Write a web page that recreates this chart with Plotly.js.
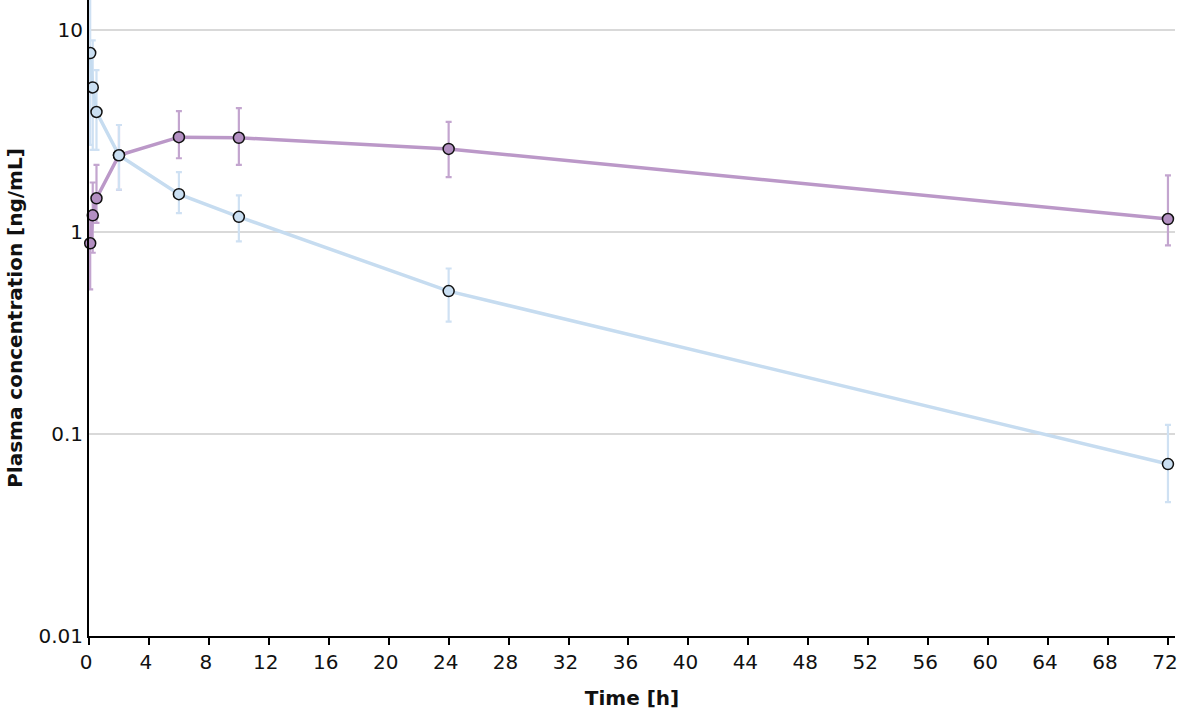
<!DOCTYPE html>
<html>
<head>
<meta charset="utf-8">
<script src="https://cdn.plot.ly/plotly-3.0.1.min.js"></script>
<style>html,body{margin:0;padding:0;background:#fff;}#chart{width:1178px;height:710px;}</style>
</head>
<body>
<div id="chart"></div>
<script>
const timeH = [0.08, 0.25, 0.5, 2, 6, 10, 24, 72];

const blueConc = [7.7, 5.2, 3.93, 2.40, 1.54, 1.19, 0.51, 0.071];
const blueErrPlus = [8.0, 3.7, 2.4, 0.99, 0.44, 0.33, 0.15, 0.04];
const blueErrMinus = [5.0, 2.65, 1.38, 0.78, 0.30, 0.29, 0.15, 0.025];

const purpleConc = [0.88, 1.21, 1.47, 2.40, 2.95, 2.93, 2.58, 1.16];
const purpleErrPlus = [0.37, 0.55, 0.68, 0.99, 1.02, 1.18, 0.93, 0.75];
const purpleErrMinus = [0.36, 0.42, 0.36, 0.78, 0.63, 0.78, 0.71, 0.30];

const xTicks = [0,4,8,12,16,20,24,28,32,36,40,44,48,52,56,60,64,68,72];
const yTickVals = [0.01, 0.1, 1, 10];
const yTickText = ['0.01', '0.1', '1', '10'];

const fontFam = '"DejaVu Sans", sans-serif';

const purple = {
  x: timeH, y: purpleConc, type: 'scatter', mode: 'lines+markers',
  line: {color: '#bb98c8', width: 3.5},
  marker: {size: 11, color: '#b38fc2', line: {color: '#111', width: 1.5}},
  error_y: {type: 'data', symmetric: false, array: purpleErrPlus, arrayminus: purpleErrMinus,
            color: '#c3a5cf', thickness: 2.2, width: 3},
  cliponaxis: false, showlegend: false, hoverinfo: 'x+y'
};
const blue = {
  x: timeH, y: blueConc, type: 'scatter', mode: 'lines+markers',
  line: {color: '#c6dcf0', width: 3.5},
  marker: {size: 11, color: '#cadff2', line: {color: '#111', width: 1.5}},
  error_y: {type: 'data', symmetric: false, array: blueErrPlus, arrayminus: blueErrMinus,
            color: '#cfe1f3', thickness: 2.2, width: 3},
  cliponaxis: true, showlegend: false, hoverinfo: 'x+y'
};

const layout = {
  width: 1178, height: 710,
  margin: {l: 89, r: 3, t: 0, b: 74},
  paper_bgcolor: '#fff', plot_bgcolor: '#fff',
  font: {family: fontFam, size: 20, color: '#111'},
  xaxis: {
    range: [0, 72.47], tickvals: xTicks, ticktext: xTicks.map(String),
    showgrid: false, zeroline: false, showline: true, linecolor: '#000', linewidth: 2,
    ticks: 'outside', ticklen: 7, tickwidth: 2, tickcolor: '#000',
    ticklabelshift: -3,
    tickfont: {size: 20, family: fontFam},
    title: {text: '<b>Time [h]</b>', font: {size: 20, family: fontFam}, standoff: 18}
  },
  yaxis: {
    type: 'log', range: [-2, 1.149], tickvals: yTickVals, ticktext: yTickText,
    showgrid: true, gridcolor: '#d9d9d9', gridwidth: 2, zeroline: false,
    showline: true, linecolor: '#000', linewidth: 2, ticks: '',
    tickfont: {size: 20, family: fontFam},
    title: {text: '<b>Plasma concentration [ng/mL]</b>', font: {size: 20, family: fontFam}, standoff: 10}
  }
};

Plotly.newPlot('chart', [purple, blue], layout, {displayModeBar: false, staticPlot: true});
</script>
</body>
</html>
